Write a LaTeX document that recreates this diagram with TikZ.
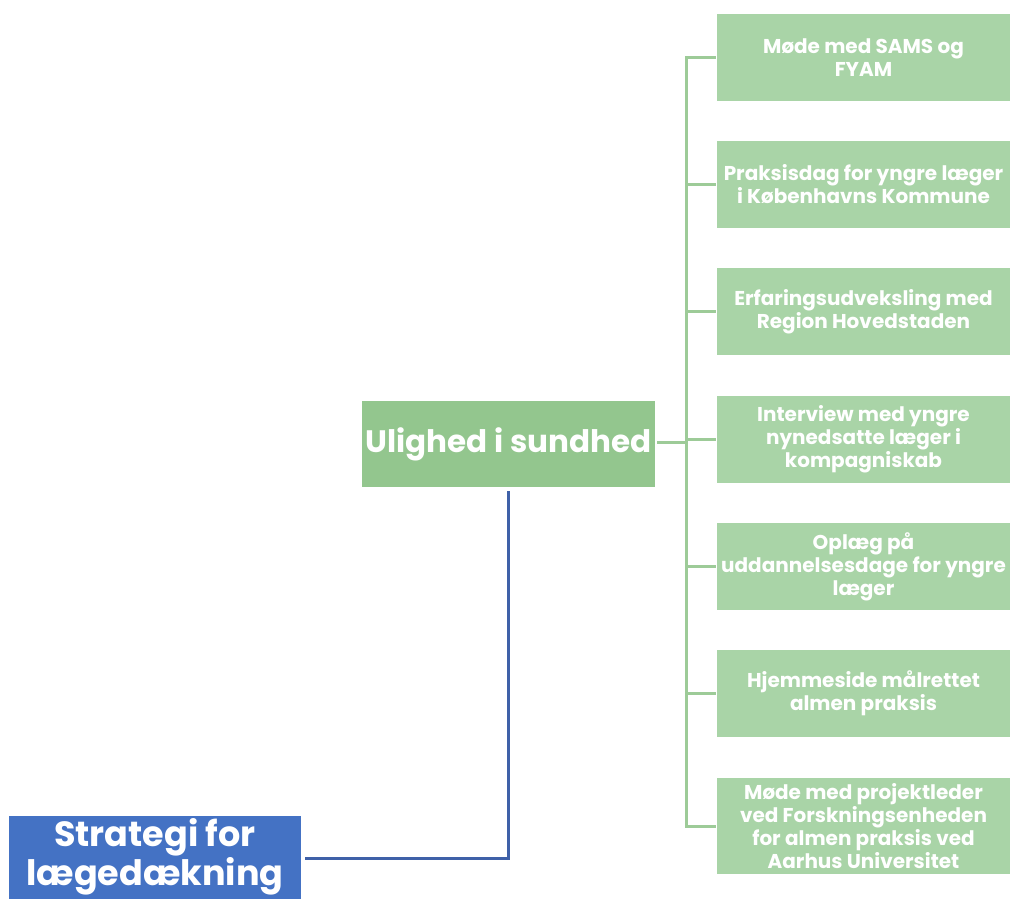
\documentclass[tikz,border=0pt]{standalone}
\usepackage{fontspec}
\setmainfont{Poppins}
\begin{document}
\begin{tikzpicture}[x=1pt,y=-1pt,
  leaf/.style={fill=leafgreen,draw=none,minimum width=293pt,minimum height=87pt,inner sep=0pt,align=center,text=white,font=\fontsize{20}{23}\selectfont\bfseries},
  midbox/.style={fill=midgreen,draw=none,minimum width=293pt,minimum height=86pt,inner sep=0pt,align=center,text=white,font=\fontsize{31}{34}\selectfont\bfseries},
  rootbox/.style={fill=rootblue,draw=none,minimum width=292pt,minimum height=88pt,inner sep=0pt,align=center,text=white,font=\fontsize{35}{39}\selectfont\bfseries},
  gline/.style={draw=linegreen,line width=3pt},
  bline/.style={draw=lineblue,line width=3pt}]
\definecolor{leafgreen}{HTML}{A9D4A7}
\definecolor{midgreen}{HTML}{93C68E}
\definecolor{rootblue}{HTML}{4472C4}
\definecolor{linegreen}{HTML}{9DCB98}
\definecolor{lineblue}{HTML}{3F61A8}
\useasboundingbox (0,0) rectangle (1012,898);
\node[rootbox] (root) at (155,860) {Strategi for\\lægedækning\rule[-17pt]{0pt}{1pt}};
\node[midbox] (mid) at (508.5,444) {Ulighed i sundhed};
\node[leaf] (l1) at (863.5,57.5) {Møde med SAMS og\\FYAM};
\node[leaf] (l2) at (863.5,184.5) {Praksisdag for yngre læger\\i Københavns Kommune};
\node[leaf] (l3) at (863.5,311.5) {Erfaringsudveksling med\\Region Hovedstaden};
\node[leaf] (l4) at (863.5,439.5) {Interview med yngre\\nynedsatte læger i\\kompagniskab};
\node[leaf] (l5) at (863.5,566.5) {Oplæg på\\uddannelsesdage for yngre\\læger};
\node[leaf] (l6) at (863.5,693.5) {Hjemmeside målrettet\\almen praksis};
\node[leaf,minimum height=96pt] (l7) at (863.5,826) {Møde med projektleder\\ved Forskningsenheden\\for almen praksis ved\\Aarhus Universitet};
\coordinate (bus) at (686,442);
\draw[gline] ([xshift=2pt]mid.east |- bus) -- (bus);
\foreach \n in {l1,l2,l3,l4,l5,l6,l7}{
  \draw[gline] (bus) |- ([xshift=-1pt]\n.west);
}
\draw[bline] ([xshift=4pt,yshift=2pt]root.east) -| ([yshift=-4pt]mid.south);
\end{tikzpicture}
\end{document}
